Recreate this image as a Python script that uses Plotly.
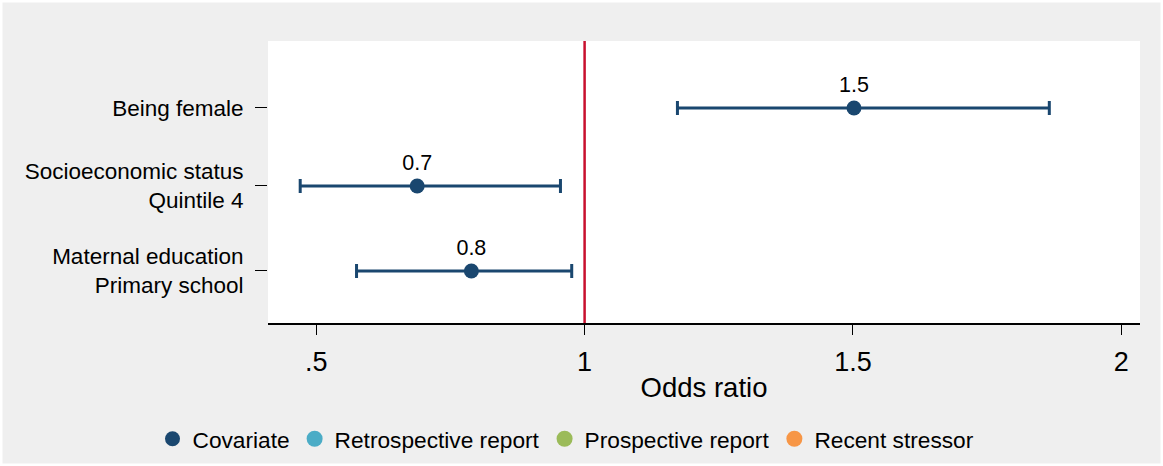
import plotly.graph_objects as go

# ---- data ----
row_labels = ["Being female", "Socioeconomic status<br>Quintile 4", "Maternal education<br>Primary school"]
row_pos = [1.0, 2.0, 3.09]
odds_ratio = [1.502, 0.688, 0.789]
ci_low = [1.173, 0.470, 0.575]
ci_high = [1.866, 0.955, 0.976]
value_labels = ["1.5", "0.7", "0.8"]
legend_names = ["Covariate", "Retrospective report", "Prospective report", "Recent stressor"]
legend_colors = ["#1a476f", "#4bacc6", "#9bbb59", "#f79646"]
x_ticks = [0.5, 1, 1.5, 2]
x_ticktext = [".5", "1", "1.5", "2"]

W, H = 1163, 466
ml, mr, mt, mb = 268, 23, 41, 143
pw, ph = W - ml - mr, H - mt - mb
FONT = "Liberation Sans, Arial, sans-serif"

fig = go.Figure()

err_plus = [h - o for h, o in zip(ci_high, odds_ratio)]
err_minus = [o - l for o, l in zip(odds_ratio, ci_low)]

fig.add_trace(go.Scatter(
    x=odds_ratio, y=row_pos, mode="markers+text",
    name=legend_names[0],
    marker=dict(color=legend_colors[0], size=15),
    error_x=dict(type="data", symmetric=False, array=err_plus, arrayminus=err_minus,
                 color=legend_colors[0], thickness=3, width=7),
    text=value_labels, textposition="top center",
    textfont=dict(size=21.5, color="#000000", family=FONT),
    cliponaxis=False,
))
for name, col in zip(legend_names[1:], legend_colors[1:]):
    fig.add_trace(go.Scatter(x=[None], y=[None], mode="markers", name=name,
                             marker=dict(color=col, size=16)))

# reference line at OR = 1
fig.add_shape(type="line", xref="x", yref="paper", x0=1, x1=1, y0=0, y1=1,
              line=dict(color="#c8102e", width=2.5), layer="above")

# thin white outer frame
fig.add_shape(type="rect", xref="paper", yref="paper",
              x0=(0 - ml) / pw, x1=(W - ml) / pw,
              y0=(0 - mb) / ph, y1=(H - mb) / ph,
              line=dict(color="white", width=5), fillcolor="rgba(0,0,0,0)", layer="above")

fig.update_layout(
    width=W, height=H,
    margin=dict(l=ml, r=mr, t=mt, b=mb, autoexpand=False),
    paper_bgcolor="#efefef", plot_bgcolor="white",
    font=dict(family=FONT, color="#000000"),
    showlegend=True,
    legend=dict(orientation="h", x=(566 - ml) / pw, xanchor="center",
                y=-(439 - 323) / ph, yanchor="middle", font=dict(size=22.7),
                bgcolor="rgba(0,0,0,0)", itemsizing="trace", tracegroupgap=0),
    xaxis=dict(range=[0.410, 2.035], tickvals=x_ticks, ticktext=x_ticktext,
               ticks="outside", ticklen=10, tickwidth=1.2, tickcolor="#000",
               showline=True, linecolor="#000", linewidth=1.5, showgrid=False, zeroline=False,
               tickfont=dict(size=27), ticklabelstandoff=4, automargin=False,
               title=dict(text="Odds ratio", font=dict(size=27.5), standoff=2)),
    yaxis=dict(range=[3.757, 0.141], tickvals=row_pos, ticktext=row_labels,
               ticks="outside", ticklen=12, tickwidth=1.2, tickcolor="#000",
               showline=False, showgrid=False, zeroline=False, automargin=False,
               tickfont=dict(size=22.5), ticklabelstandoff=7),
)

fig.write_html("out.html", config={"displayModeBar": False},
               post_script="document.body.style.margin='0';document.body.style.padding='0';")
